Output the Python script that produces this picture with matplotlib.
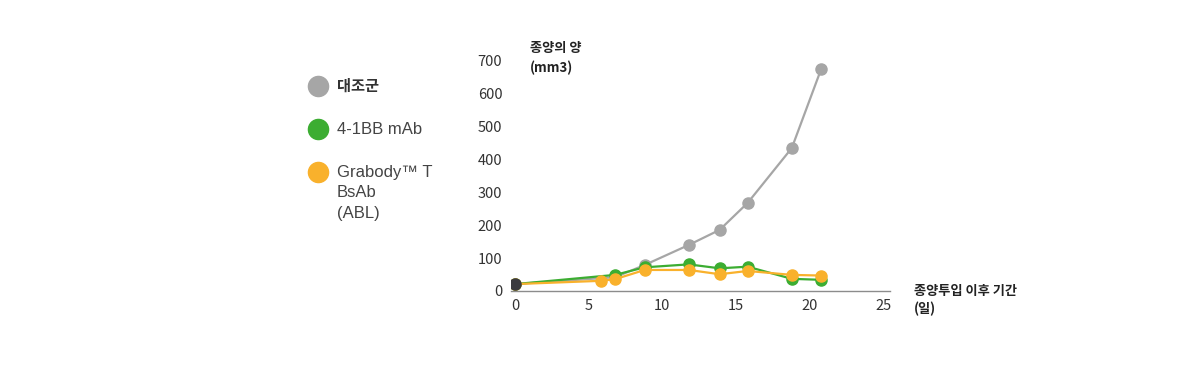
import matplotlib.pyplot as plt
from matplotlib.lines import Line2D

plt.rcParams['font.family'] = ['Noto Sans CJK KR', 'DejaVu Sans']

# tumour volume (mm3) vs days after implantation
days_ctrl = [0, 6.8, 8.8, 11.8, 13.9, 15.8, 18.8, 20.8]
vol_ctrl = [21, 42, 79, 140, 186, 268, 435, 676]

days_mab = [0, 6.8, 8.8, 11.8, 13.9, 15.8, 18.8, 20.8]
vol_mab = [21, 49, 72, 81, 69, 74, 37, 34]

days_abl = [0, 5.85, 6.8, 8.8, 11.8, 13.9, 15.8, 18.8, 20.8]
vol_abl = [21, 31, 36, 64, 64, 51, 61, 49, 47]

series_names = ['대조군', '4-1BB mAb', 'Grabody™ T\nBsAb\n(ABL)']
series_colors = ['#a6a6a6', '#3cad32', '#f9b12c']
start_color = '#3b3b3f'

xticks = [0, 5, 10, 15, 20, 25]
yticks = [0, 100, 200, 300, 400, 500, 600, 700]

fig = plt.figure(figsize=(12.02, 3.79), dpi=100)
ax = fig.add_axes([0.4248, 0.2322, 0.316, 0.6243])

ms = 8
lw = 1.6
# gray first, markers hidden where the other groups cover it
ax.plot(days_ctrl, vol_ctrl, '-', color=series_colors[0], lw=lw, zorder=2)
ax.plot(days_ctrl[2:], vol_ctrl[2:], 'o', color=series_colors[0], ms=ms, zorder=2)
ax.plot(days_mab, vol_mab, '-o', color=series_colors[1], ms=ms, lw=lw, zorder=3)
ax.plot(days_abl, vol_abl, '-o', color=series_colors[2], ms=ms, lw=lw, zorder=4)
ax.plot([days_ctrl[0]], [vol_ctrl[0]], 'o', color=start_color, ms=ms, zorder=5)

ax.set_xlim(-0.3, 25.5)
ax.set_ylim(0, 720)
ax.set_xticks(xticks)
ax.set_yticks(yticks)
ax.tick_params(length=0, labelsize=10.5, colors='#333333', pad=6)
for s in ['top', 'right', 'left']:
    ax.spines[s].set_visible(False)
ax.spines['bottom'].set_color('#8c8c8c')
ax.spines['bottom'].set_linewidth(1)
ax.set_facecolor('none')

fig.text(530 / 1202, 1 - 41 / 379, '종양의 양\n(mm3)', fontsize=9.5, fontweight='bold',
         color='#222222', va='top', ha='left', linespacing=1.5)
fig.text(914 / 1202, 1 - 284 / 379, '종양투입 이후 기간\n(일)', fontsize=9.5, fontweight='bold',
         color='#222222', va='top', ha='left', linespacing=1.35)

# legend drawn by hand
leg_y = [86, 129, 172]
for i, (name, c, y) in enumerate(zip(series_names, series_colors, leg_y)):
    fig.add_artist(Line2D([318 / 1202], [1 - y / 379], marker='o', ms=14.5, color=c,
                          transform=fig.transFigure, lw=0))
    if i == 0:
        fig.text(337 / 1202, 1 - y / 379, name, fontsize=11, color='#333333',
                 va='center', ha='left', fontweight='bold')
    else:
        fig.text(337 / 1202, 1 - (y - 7) / 379, name, fontsize=12, color='#444444',
                 va='top', ha='left', linespacing=1.45,
                 family=['Liberation Sans', 'Noto Sans CJK KR'])

fig.savefig('out.png', dpi=100)
